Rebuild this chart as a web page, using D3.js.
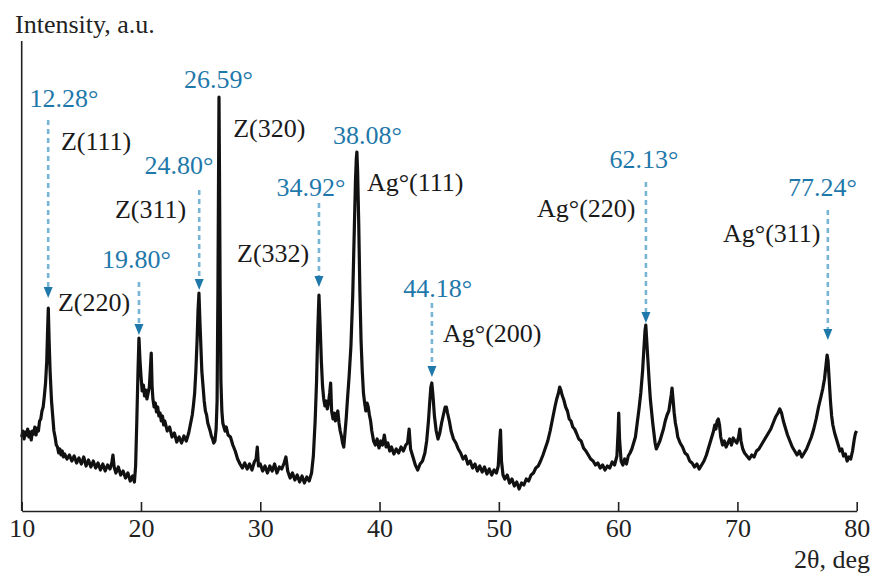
<!DOCTYPE html>
<html>
<head>
<meta charset="utf-8">
<script src="https://cdn.jsdelivr.net/npm/d3@7"></script>
<style>
  html, body { margin: 0; padding: 0; background: #fff; }
  svg { display: block; }
  text { font-family: "Liberation Serif", "Times New Roman", serif; }
</style>
</head>
<body>
<svg id="chart" width="873" height="573"></svg>
<script>
// ---------- DATA ----------
const xTicks = [10, 20, 30, 40, 50, 60, 70, 80];
const xLabel = "2θ, deg";
const yLabel = "Intensity, a.u.";

// XRD pattern: [2θ, intensity (a.u.)]
const pattern = [
  [10.0,74],[10.1,80],[10.2,72],[10.3,79],[10.4,76],[10.5,82],[10.6,74],[10.7,79],[10.8,71],[10.9,80],
  [11.0,77],[11.1,84],[11.2,76],[11.3,83],[11.4,80],[11.5,90],[11.6,92],[11.7,100],[11.8,104],[11.9,115],
  [12.0,128],[12.1,150],[12.17,180],[12.23,203],[12.3,170],[12.38,140],[12.5,110],[12.6,95],[12.7,80],[12.8,74],
  [12.9,66],[13.0,64],[13.1,58],[13.2,62],[13.3,56],[13.4,60],[13.5,54],[13.6,57],[13.8,52],[14.0,56],
  [14.2,50],[14.4,55],[14.6,48],[14.8,53],[15.0,47],[15.2,54],[15.4,45],[15.6,51],[15.8,44],[16.0,50],
  [16.2,43],[16.4,48],[16.6,41],[16.8,47],[17.0,40],[17.2,46],[17.4,42],[17.55,48],[17.65,56],[17.75,44],
  [17.9,38],[18.1,44],[18.3,36],[18.5,40],[18.7,33],[18.9,38],[19.1,30],[19.3,35],[19.45,29],[19.55,45],
  [19.65,90],[19.75,140],[19.83,173],[19.92,150],[20.0,135],[20.1,120],[20.2,126],[20.3,115],[20.4,121],[20.5,112],
  [20.6,118],[20.7,124],[20.8,145],[20.86,158],[20.93,125],[21.0,112],[21.1,104],[21.2,108],[21.3,99],[21.4,104],
  [21.5,95],[21.6,98],[21.7,90],[21.8,95],[21.9,86],[22.0,90],[22.2,80],[22.4,84],[22.6,74],[22.8,78],
  [23.0,69],[23.2,74],[23.4,68],[23.6,75],[23.8,70],[24.0,78],[24.1,84],[24.2,90],[24.3,96],[24.4,106],
  [24.5,118],[24.6,140],[24.7,170],[24.78,200],[24.86,218],[24.94,190],[25.02,165],[25.1,140],[25.2,125],[25.3,110],
  [25.4,100],[25.5,96],[25.6,88],[25.7,84],[25.8,80],[25.9,75],[26.0,72],[26.1,68],[26.2,70],[26.3,82],
  [26.38,110],[26.45,220],[26.5,330],[26.54,414],[26.58,340],[26.63,230],[26.7,130],[26.78,100],[26.86,88],[26.95,84],
  [27.05,80],[27.15,84],[27.3,76],[27.5,74],[27.7,66],[27.9,60],[28.1,52],[28.3,47],[28.5,43],[28.7,48],
  [28.9,42],[29.1,47],[29.3,41],[29.5,49],[29.65,52],[29.75,64],[29.85,45],[30.0,47],[30.2,40],[30.4,45],
  [30.6,38],[30.8,45],[31.0,40],[31.2,47],[31.4,38],[31.6,44],[31.8,42],[32.0,48],[32.15,54],[32.3,40],
  [32.5,33],[32.7,38],[32.9,31],[33.1,36],[33.3,29],[33.5,35],[33.7,28],[33.9,34],[34.1,30],[34.3,38],
  [34.45,55],[34.6,90],[34.72,130],[34.82,180],[34.92,216],[35.02,185],[35.12,150],[35.22,125],[35.32,112],[35.42,105],
  [35.52,110],[35.62,102],[35.72,108],[35.82,118],[35.9,128],[35.98,100],[36.1,92],[36.2,98],[36.3,90],[36.4,96],
  [36.5,100],[36.6,88],[36.7,80],[36.8,75],[36.9,68],[37.0,64],[37.1,78],[37.2,92],[37.3,110],[37.45,135],
  [37.6,165],[37.75,215],[37.88,280],[37.98,330],[38.05,352],[38.1,359],[38.16,340],[38.25,290],[38.35,220],[38.45,170],
  [38.55,140],[38.65,118],[38.75,108],[38.85,100],[38.95,108],[39.05,104],[39.15,96],[39.25,90],[39.35,80],[39.5,70],
  [39.65,66],[39.8,72],[39.95,63],[40.1,70],[40.25,66],[40.4,76],[40.55,64],[40.7,68],[40.85,60],[41.0,64],
  [41.2,57],[41.4,62],[41.6,58],[41.8,64],[42.0,60],[42.2,66],[42.35,68],[42.48,82],[42.6,62],[42.8,54],
  [43.0,46],[43.2,41],[43.4,47],[43.6,50],[43.8,58],[43.95,70],[44.1,90],[44.2,108],[44.3,124],[44.38,128],
  [44.48,115],[44.6,95],[44.75,80],[44.9,72],[45.05,78],[45.2,88],[45.35,96],[45.5,104],[45.6,104],[45.7,98],
  [45.85,90],[46.0,80],[46.2,72],[46.4,68],[46.6,62],[46.8,58],[47.0,52],[47.2,55],[47.4,47],[47.6,50],
  [47.8,43],[48.0,47],[48.2,40],[48.4,45],[48.6,39],[48.8,44],[49.0,37],[49.2,42],[49.4,36],[49.6,41],
  [49.8,38],[49.95,45],[50.07,70],[50.14,81],[50.22,50],[50.35,36],[50.5,32],[50.7,36],[50.9,28],[51.1,32],
  [51.3,25],[51.5,29],[51.7,22],[51.9,28],[52.1,26],[52.3,32],[52.5,30],[52.7,36],[52.9,38],[53.1,43],
  [53.3,45],[53.5,50],[53.7,56],[53.9,63],[54.1,70],[54.3,80],[54.5,92],[54.7,104],[54.85,112],[55.0,118],
  [55.1,124],[55.2,121],[55.3,116],[55.45,111],[55.6,104],[55.75,100],[55.9,92],[56.05,90],[56.2,84],[56.35,82],
  [56.5,78],[56.7,72],[56.9,70],[57.1,63],[57.3,60],[57.5,56],[57.7,52],[57.9,50],[58.1,46],[58.3,48],
  [58.5,43],[58.7,46],[58.9,41],[59.1,45],[59.3,43],[59.5,49],[59.7,46],[59.9,55],[60.0,80],[60.05,98],
  [60.12,72],[60.25,50],[60.4,46],[60.55,52],[60.7,47],[60.85,55],[61.0,58],[61.15,62],[61.3,68],[61.45,74],
  [61.6,88],[61.75,102],[61.9,118],[62.05,140],[62.15,160],[62.25,180],[62.32,186],[62.4,170],[62.5,150],[62.6,130],
  [62.7,112],[62.8,100],[62.9,88],[63.0,78],[63.1,68],[63.2,62],[63.35,66],[63.5,70],[63.65,76],[63.8,82],
  [63.95,90],[64.1,96],[64.25,100],[64.35,108],[64.45,116],[64.52,123],[64.6,112],[64.7,98],[64.8,88],[64.9,82],
  [65.0,74],[65.2,68],[65.4,64],[65.6,58],[65.8,56],[66.0,50],[66.2,48],[66.4,44],[66.6,47],[66.8,42],
  [67.0,46],[67.2,50],[67.4,56],[67.6,64],[67.8,72],[68.0,80],[68.1,86],[68.2,82],[68.3,90],[68.4,92],
  [68.5,86],[68.6,74],[68.75,66],[68.9,70],[69.05,64],[69.2,68],[69.35,72],[69.5,66],[69.65,73],[69.8,70],
  [69.95,68],[70.1,74],[70.2,82],[70.3,70],[70.45,62],[70.6,58],[70.8,55],[71.0,52],[71.2,56],[71.4,54],
  [71.6,60],[71.8,62],[72.0,66],[72.2,70],[72.4,74],[72.6,78],[72.8,82],[73.0,88],[73.2,94],[73.4,98],
  [73.55,102],[73.7,98],[73.85,90],[74.0,84],[74.2,76],[74.4,70],[74.6,64],[74.8,60],[75.0,56],[75.2,60],
  [75.4,54],[75.6,58],[75.8,62],[76.0,68],[76.2,74],[76.4,82],[76.6,92],[76.8,104],[77.0,114],[77.15,122],
  [77.3,132],[77.42,145],[77.52,156],[77.6,150],[77.7,130],[77.8,110],[77.9,95],[78.0,86],[78.15,78],[78.3,72],
  [78.45,66],[78.6,60],[78.75,62],[78.9,55],[79.05,57],[79.2,50],[79.35,54],[79.5,52],[79.65,60],[79.8,72],
  [79.9,78],[80.0,80]
];

// Peak angle labels (blue): text, centre 2θ, baseline intensity
const peakLabels = ["12.28°", "19.80°", "24.80°", "26.59°", "34.92°", "38.08°", "44.18°", "62.13°", "77.24°"];
const peakLabelX = [13.55, 19.62, 23.19, 26.5, 34.25, 38.99, 44.87, 62.17, 77.13];
const peakLabelY = [404, 243, 337, 423, 315, 367, 214, 343, 315];

// Dashed arrows: 2θ, top intensity, tip intensity
const arrowX   = [12.22, 19.83, 24.88, 34.92, 44.39, 62.33, 77.58];
const arrowTop = [391, 229, 321, 308, 208, 329, 301];
const arrowTip = [213, 176, 221, 224, 134, 188, 171];

// Phase (hkl) labels (black): text, left 2θ, baseline intensity
const phaseLabels = ["Z(111)", "Z(320)", "Z(311)", "Z(220)", "Z(332)", "Ag°(111)", "Ag°(200)", "Ag°(220)", "Ag°(311)"];
const phaseLabelX = [13.29, 27.73, 17.82, 13.04, 28.05, 38.94, 45.32, 53.2, 68.79];
const phaseLabelY = [361, 374, 293, 200, 249, 320, 169, 294, 269];

// ---------- CHART ----------
const svg = d3.select("#chart");
const x = d3.scaleLinear().domain([10, 80]).range([21.7, 856.7]);
const y = d3.scaleLinear().domain([0, 470]).range([511, 41]);

const blue = "#1f78aa";
const dashBlue = "#78b4d4";
const fontSize = "26px";

// curve
const line = d3.line().x(d => x(d[0])).y(d => y(d[1]));
svg.append("path")
  .datum(pattern)
  .attr("d", line)
  .attr("fill", "none")
  .attr("stroke", "#111")
  .attr("stroke-width", 3.2)
  .attr("stroke-linejoin", "round");

// x axis
const xAxis = d3.axisBottom(x).tickValues(xTicks).tickSizeInner(-9).tickSizeOuter(0).tickFormat(d3.format("d"));
const gx = svg.append("g").attr("transform", `translate(0,${y(0)})`).call(xAxis);
gx.select(".domain").attr("stroke", "#222").attr("stroke-width", 1.6);
gx.selectAll(".tick line").attr("stroke", "#222").attr("stroke-width", 1.6);
gx.selectAll(".tick text")
  .attr("y", 26).attr("dy", 0)
  .attr("fill", "#222")
  .style("font-family", '"Liberation Serif", serif')
  .style("font-size", fontSize);

// y axis line (no ticks)
svg.append("line")
  .attr("x1", x(10)).attr("x2", x(10))
  .attr("y1", y(470)).attr("y2", y(0))
  .attr("stroke", "#222").attr("stroke-width", 1.6);

// axis titles
svg.append("text").attr("x", 15).attr("y", 33)
  .attr("fill", "#222").style("font-size", fontSize).text(yLabel);
svg.append("text").attr("x", 870).attr("y", 568).attr("text-anchor", "end")
  .attr("fill", "#222").style("font-size", fontSize).text(xLabel);

// arrows
const arrows = arrowX.map((a, i) => ({ a, top: arrowTop[i], tip: arrowTip[i] }));
const ga = svg.append("g");
ga.selectAll("line").data(arrows).join("line")
  .attr("x1", d => x(d.a)).attr("x2", d => x(d.a))
  .attr("y1", d => y(d.top)).attr("y2", d => y(d.tip) - 9)
  .attr("stroke", dashBlue).attr("stroke-width", 2.6)
  .attr("stroke-dasharray", "5,4");
ga.selectAll("path").data(arrows).join("path")
  .attr("d", d => {
    const cx = x(d.a), ty = y(d.tip);
    return `M${cx - 4.5},${ty - 11}L${cx + 4.5},${ty - 11}L${cx},${ty}Z`;
  })
  .attr("fill", blue);

// blue peak labels
svg.append("g").selectAll("text").data(peakLabels).join("text")
  .attr("x", (d, i) => x(peakLabelX[i]))
  .attr("y", (d, i) => y(peakLabelY[i]))
  .attr("text-anchor", "middle")
  .attr("fill", blue)
  .style("font-size", fontSize)
  .text(d => d);

// phase labels
svg.append("g").selectAll("text").data(phaseLabels).join("text")
  .attr("x", (d, i) => x(phaseLabelX[i]))
  .attr("y", (d, i) => y(phaseLabelY[i]))
  .attr("fill", "#1a1a1a")
  .style("font-size", fontSize)
  .text(d => d);
</script>
</body>
</html>
